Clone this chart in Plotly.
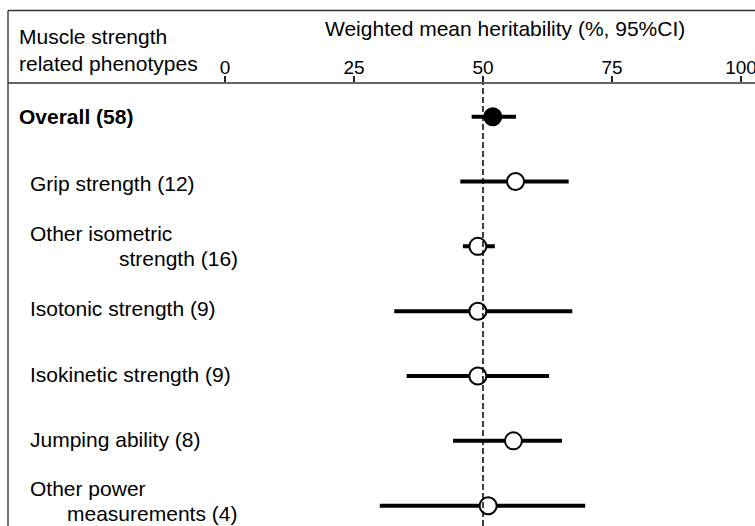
import plotly.graph_objects as go

# ---------------- data ----------------
phenotypes = ["Overall (58)", "Grip strength (12)", "Other isometric strength (16)",
              "Isotonic strength (9)", "Isokinetic strength (9)", "Jumping ability (8)",
              "Other power measurements (4)"]
means = [51.9, 56.3, 49.0, 49.0, 49.0, 55.9, 51.0]
lower = [47.8, 45.6, 46.1, 32.8, 35.2, 44.2, 30.0]
upper = [56.4, 66.6, 52.3, 67.3, 62.8, 65.3, 69.8]
tick_vals = [0, 25, 50, 75, 100]
reference_value = 50

# ---------------- layout geometry ----------------
W, H = 755, 526
ML, MR, MT, MB = 225, 14, 83, 0
PW, PH = W - ML - MR, H - MT - MB
FONT = "Liberation Sans, Arial, sans-serif"


def px(x):
    return (x - ML) / PW


def py(y):
    return 1 - (y - MT) / PH


rows = list(range(len(phenotypes)))
row_top_px, row_step_px = 116.7, 64.83
y_top = -(row_top_px - MT) / row_step_px
y_bot = (H - MB - row_top_px) / row_step_px

fig = go.Figure()

for i in rows:
    filled = (i == 0)
    fig.add_trace(go.Scatter(
        x=[means[i]], y=[i], mode="markers",
        marker=dict(size=17, color="black" if filled else "white",
                    line=dict(color="black", width=2)),
        error_x=dict(type="data", symmetric=False,
                     array=[upper[i] - means[i]], arrayminus=[means[i] - lower[i]],
                     thickness=4, width=0, color="black"),
        showlegend=False, hoverinfo="skip"))

shapes = [
    # dashed reference line
    dict(type="line", xref="x", yref="paper", x0=reference_value, x1=reference_value,
         y0=0, y1=1, line=dict(color="black", width=1.5, dash="6px,3px")),
    # frame: left vertical, top, header separator
    dict(type="line", xref="paper", yref="paper", x0=px(8), x1=px(W + 5),
         y0=py(10.5), y1=py(10.5), line=dict(color="#333", width=1.5)),
    dict(type="line", xref="paper", yref="paper", x0=px(8), x1=px(W + 5),
         y0=py(83), y1=py(83), line=dict(color="#333", width=1.5)),
    dict(type="line", xref="paper", yref="paper", x0=px(8), x1=px(8),
         y0=py(10.5), y1=py(H + 5), line=dict(color="#444", width=1.5)),
]

ann = []


def add_text(text, x, y, size=21, bold=False, anchor="left"):
    ann.append(dict(text=("<b>%s</b>" % text) if bold else text,
                    xref="paper", yref="paper", x=px(x), y=py(y),
                    xanchor=anchor, yanchor="middle", showarrow=False,
                    font=dict(family=FONT, size=size, color="black")))


add_text("Weighted mean heritability (%, 95%CI)", 505, 28, anchor="center")
add_text("Muscle strength", 17, 37)
add_text("related phenotypes", 17, 63)

label_lines = [
    [("Overall (58)", 17, 117, True)],
    [("Grip strength (12)", 28, 184, False)],
    [("Other isometric", 28, 233, False), ("strength (16)", 117, 258, False)],
    [("Isotonic strength (9)", 28, 308, False)],
    [("Isokinetic strength (9)", 28, 374, False)],
    [("Jumping ability (8)", 28, 439, False)],
    [("Other power", 28, 488, False), ("measurements (4)", 65, 513, False)],
]
for parts in label_lines:
    for t, x, y, b in parts:
        add_text(t, x, y, bold=b)

fig.update_layout(
    width=W, height=H,
    margin=dict(l=ML, r=MR, t=MT, b=MB, autoexpand=False),
    paper_bgcolor="white", plot_bgcolor="white",
    shapes=shapes, annotations=ann,
    xaxis=dict(range=[0, 100], side="top", tickvals=tick_vals,
               ticktext=[str(v) for v in tick_vals],
               ticks="outside", ticklen=6, tickwidth=1.5, tickcolor="#222",
               ticklabeloverflow="allow", ticklabelstandoff=-6,
               showgrid=False, zeroline=False, showline=False,
               tickfont=dict(family=FONT, size=19, color="black"),
               automargin=False, fixedrange=True),
    yaxis=dict(range=[y_bot, y_top], visible=False, showgrid=False,
               zeroline=False, fixedrange=True),
)

fig.write_html("out.html")
